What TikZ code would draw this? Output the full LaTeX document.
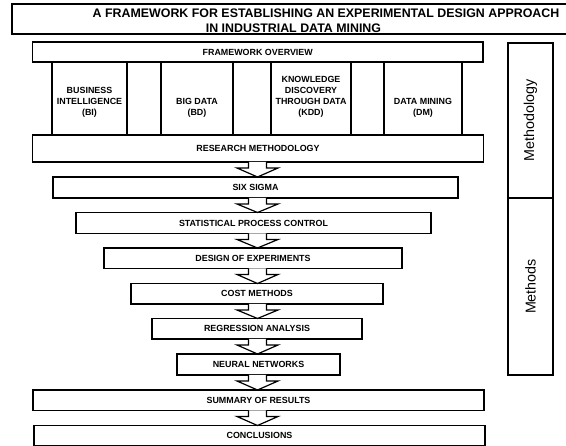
\documentclass[tikz,border=0pt]{standalone}
\usepackage{fontspec}
\setmainfont{Liberation Sans}
\usetikzlibrary{calc}
\newcommand\mkbox[6]{\node[box, minimum width={(#4-#2)*1pt}, minimum height={(#5-#3)*1pt}] (#1) at ({(#2+#4)/2},{(#3+#5)/2}) {#6};}
\begin{document}
\begin{tikzpicture}[x=1pt,y=-1pt,
  line/.style={draw=black, line width=1.2pt},
  box/.style={line, inner sep=0pt, outer sep=0pt, font=\bfseries\fontsize{8.9}{11}\selectfont, align=center},
  coltext/.style={inner sep=0pt, font=\bfseries\fontsize{8.9}{11}\selectfont, align=center},
  titletext/.style={inner sep=0pt, font=\bfseries\fontsize{12.4}{14}\selectfont},
  sidebox/.style={line, inner sep=0pt, outer sep=0pt, rotate=90, minimum height=45pt, font=\fontsize{14.3}{16}\selectfont},
  blockarrow/.style={line, line join=miter, fill=white}]
\useasboundingbox (0,0) rectangle (566,446);
\clip (0,0) rectangle (566,446);
\coordinate (ctr) at (257.5,0);
% title
\node[line, inner sep=0pt, outer sep=0pt, minimum width=560pt, minimum height=30pt] (titlebox) at (292,19) {};
\node[titletext] (title1) at (326,13.5) {A FRAMEWORK FOR ESTABLISHING AN EXPERIMENTAL DESIGN APPROACH};
\node[titletext] (title2) at (293.5,28) {IN INDUSTRIAL DATA MINING};
% framework
\mkbox{fo}{32.5}{42}{483}{62}{FRAMEWORK OVERVIEW}
\mkbox{bi}{52}{62}{127}{135}{}
\mkbox{bd}{161}{62}{233}{135}{}
\mkbox{kdd}{271}{62}{351}{135}{}
\mkbox{dm}{384}{62}{462}{135}{}
\node[coltext] (bitxt) at (89.5,102) {BUSINESS\\INTELLIGENCE\\(BI)};
\node[coltext] (bdtxt) at (197,107.5) {BIG DATA\\(BD)};
\node[coltext] (kddtxt) at (311,96.8) {KNOWLEDGE\\DISCOVERY\\THROUGH DATA\\(KDD)};
\node[coltext] (dmtxt) at (423,107.5) {DATA MINING\\(DM)};
\mkbox{rm}{32.5}{135}{483.5}{162}{RESEARCH METHODOLOGY}
\mkbox{ss}{53}{177}{458}{198}{SIX SIGMA}
\mkbox{spc}{76}{212.5}{431}{233.5}{STATISTICAL PROCESS CONTROL}
\mkbox{doe}{104}{248}{402}{268.5}{DESIGN OF EXPERIMENTS}
\mkbox{cm}{131}{283.5}{383}{304}{COST METHODS}
\mkbox{ra}{152}{318.5}{362}{339}{REGRESSION ANALYSIS}
\mkbox{nn}{177}{354}{340}{375}{NEURAL NETWORKS}
\mkbox{sr}{33}{390}{484}{410.5}{SUMMARY OF RESULTS}
\mkbox{cc}{34}{425.5}{485}{445.5}{CONCLUSIONS}
% side boxes
\node[sidebox, minimum width=155pt] (methodology) at (530.5,120.5) {Methodology};
\node[sidebox, minimum width=177pt] (methods) at (530.5,286.5) {Methods};
% arrows
\foreach \a/\b in {rm/ss, ss/spc, spc/doe, doe/cm, cm/ra, ra/nn, nn/sr, sr/cc}{
  \draw[blockarrow] let \p1=(\a.south -| ctr), \p2=(\b.north -| ctr) in
    (\x1-9pt,\y1) -- (\x1-9pt,\y1-6pt) -- (\x1-20.5pt,\y1-6pt) -- (\x2,\y2)
    -- (\x1+20.5pt,\y1-6pt) -- (\x1+9pt,\y1-6pt) -- (\x1+9pt,\y1);
}
\end{tikzpicture}
\end{document}
